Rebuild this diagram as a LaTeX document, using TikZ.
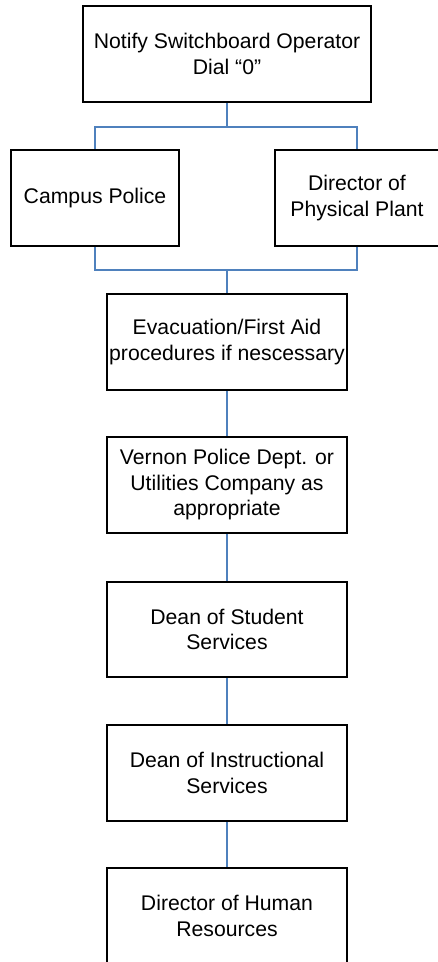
\documentclass[tikz,border=0pt]{standalone}
\usepackage{fontspec}
\setmainfont{Liberation Sans}
\definecolor{linkblue}{RGB}{79,129,189}
\begin{document}
\begin{tikzpicture}[x=1pt,y=-1pt,
  box/.style={draw=black,line width=1.5pt,rectangle,align=center,inner sep=0pt,
    minimum height=96pt,font=\fontsize{21.2}{25.5}\selectfont},
  link/.style={draw=linkblue,line width=1.5pt}]
\useasboundingbox (0,0) rectangle (438,962);
\clip (0,0) rectangle (438,962);
\fill[white] (0,0) rectangle (438,962);
\node[box,minimum width=288pt] (top) at (227,54) {Notify Switchboard Operator\\Dial “0”};
\node[box,minimum width=168pt] (cp) at (95,198) {Campus Police};
\node[box,minimum width=164pt] (dpp) at (357,198) {Director of\\Physical Plant};
\node[box,minimum width=240pt] (evac) at (227,342) {Evacuation/First Aid\\procedures if nescessary};
\node[box,minimum width=240pt] (vpd) at (227,485) {Vernon Police Dept. or\\Utilities Company as\\appropriate};
\node[box,minimum width=240pt,minimum height=95pt] (dss) at (227,629.5) {Dean of Student\\Services};
\node[box,minimum width=240pt] (dis) at (227,773) {Dean of Instructional\\Services};
\node[box,minimum width=240pt] (dhr) at (227,916) {Director of Human\\Resources};
\coordinate (split) at (227,127);
\coordinate (join) at (227,270);
\draw[link] (top.south) -- (split);
\draw[link] (split) -| (cp.north);
\draw[link] (split) -| (dpp.north);
\draw[link] (cp.south) |- (join);
\draw[link] (dpp.south) |- (join);
\draw[link] (join) -- (evac.north);
\draw[link] (evac.south) -- (vpd.north);
\draw[link] (vpd.south) -- (dss.north);
\draw[link] (dss.south) -- (dis.north);
\draw[link] (dis.south) -- (dhr.north);
\end{tikzpicture}
\end{document}
